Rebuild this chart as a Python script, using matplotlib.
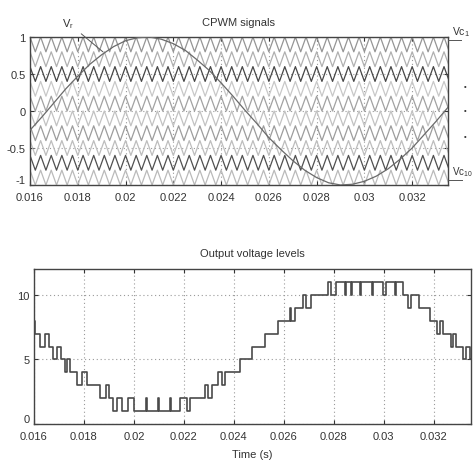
import numpy as np
import matplotlib
matplotlib.use("Agg")
import matplotlib.pyplot as plt

plt.rcParams['font.family'] = ['Liberation Sans', 'DejaVu Sans']

# ---------------- data ----------------
x_min, x_max = 0.016, 0.0335
x_ticks = [0.016, 0.018, 0.02, 0.022, 0.024, 0.026, 0.028, 0.03, 0.032]
x_tick_labels = ['0.016', '0.018', '0.02', '0.022', '0.024', '0.026', '0.028', '0.03', '0.032']

# reference signal Vr (time, value)
ref_t = [0.0160, 0.0165, 0.0170, 0.0175, 0.0180, 0.0185, 0.0190, 0.0195, 0.0200,
         0.0205, 0.0210, 0.0215, 0.0220, 0.0225, 0.0230, 0.0235, 0.0240, 0.0245,
         0.0250, 0.0255, 0.0260, 0.0265, 0.0270, 0.0275, 0.0280, 0.0285, 0.0290,
         0.0295, 0.0300, 0.0305, 0.0310, 0.0315, 0.0320, 0.0325, 0.0330, 0.0335]
ref_v = [-0.26, -0.08, 0.11, 0.30, 0.47, 0.63, 0.76, 0.87, 0.95,
         0.99, 1.00, 0.97, 0.91, 0.82, 0.69, 0.55, 0.38, 0.20,
         0.01, -0.17, -0.36, -0.52, -0.67, -0.80, -0.90, -0.97, -1.00,
         -0.99, -0.95, -0.88, -0.78, -0.65, -0.50, -0.32, -0.14, 0.05]

# level-shifted triangular carriers Vc1..Vc10
carrier_freq = 2250.0
carrier_bottoms = [0.8, 0.6, 0.4, 0.2, 0.0, -0.2, -0.4, -0.6, -0.8, -1.0]
carrier_height = 0.2
carrier_colors = ['#959595', '#b0b0b0', '#474747', '#c8c8c8', '#a2a2a2',
                  '#c2c2c2', '#9d9d9d', '#bdbdbd', '#505050', '#bababa']

top_y_ticks = [-1, -0.5, 0, 0.5, 1]
top_y_labels = ['-1', '-0.5', '0', '0.5', '1']

# output voltage levels (step transitions)
step_t = [0.01600, 0.01604, 0.01624, 0.01644, 0.01660, 0.01675, 0.01691, 0.01708,
          0.01724, 0.01732, 0.01744, 0.01772, 0.01791, 0.01813, 0.01864, 0.01888,
          0.01900, 0.01916, 0.01932, 0.01952, 0.01976, 0.02000, 0.02048, 0.02052,
          0.02096, 0.02100, 0.02144, 0.02148, 0.02184, 0.02212, 0.02224, 0.02284,
          0.02297, 0.02313, 0.02335, 0.02351, 0.02364, 0.02424, 0.02471, 0.02524,
          0.02577, 0.02624, 0.02631, 0.02644, 0.02677, 0.02690, 0.02710, 0.02776,
          0.02791, 0.02811, 0.02844, 0.02848, 0.02868, 0.02872, 0.02904, 0.02908,
          0.02952, 0.02956, 0.02997, 0.03011, 0.03044, 0.03048, 0.03077, 0.03097,
          0.03111, 0.03140, 0.03184, 0.03213, 0.03227, 0.03237, 0.03271, 0.03277,
          0.03291, 0.03317, 0.03331, 0.03345, 0.03350]
step_v = [8, 7, 6, 7, 6, 5, 6, 5,
          4, 5, 4, 3, 4, 3, 2, 3,
          2, 1, 2, 1, 2, 1, 2, 1,
          2, 1, 2, 1, 2, 1, 2, 3,
          2, 3, 4, 3, 4, 5, 6, 7,
          8, 9, 8, 9, 10, 9, 10, 11,
          10, 11, 10, 11, 10, 11, 10, 11,
          10, 11, 10, 11, 10, 11, 10, 9,
          10, 9, 8, 7, 8, 7, 6, 7,
          6, 5, 6, 5, 5]
bot_y_ticks = [0, 5, 10]
bot_y_labels = ['0', '5', '10']

# ---------------- figure ----------------
W, H = 475, 464
fig = plt.figure(figsize=(W / 100, H / 100), dpi=100)

def fx(px):
    return px / W

def fy(py):
    return 1 - py / H

ax1 = fig.add_axes([fx(30), fy(186), fx(448) - fx(30), fy(38) - fy(186)])
ax2 = fig.add_axes([fx(34), fy(425), fx(471) - fx(34), fy(270) - fy(425)])

grid_kw = dict(color='#9a9a9a', linestyle=(0, (1, 2.5)), linewidth=0.8)

# ---- top: carriers + reference ----
half_p = 0.5 / carrier_freq
vt = np.arange(x_min, x_max + half_p, half_p)
for b, c in zip(carrier_bottoms, carrier_colors):
    vals = np.where(np.arange(len(vt)) % 2 == 0, b + carrier_height, b)
    ax1.plot(vt, vals, color=c, linewidth=0.9, zorder=2)
ax1.plot(ref_t, ref_v, color='#6a6a6a', linewidth=0.9, zorder=3)

ax1.set_xlim(x_min, x_max)
ax1.set_ylim(-1, 1)
ax1.set_xticks(x_ticks)
ax1.set_xticklabels(x_tick_labels)
ax1.set_yticks(top_y_ticks)
ax1.set_yticklabels(top_y_labels)
ax1.grid(True, **grid_kw)
ax1.set_axisbelow(True)
ax1.set_title('CPWM signals', fontsize=8, color='#333333', pad=9)

# annotations
ax1.annotate('V$_\\mathregular{r}$', xy=(0.01905, 0.80), xytext=(0.0176, 1.19),
             xycoords='data', textcoords='data', fontsize=8, color='#333333',
             ha='center', va='center', annotation_clip=False,
             arrowprops=dict(arrowstyle='-', color='#555555', lw=0.7,
                             shrinkA=4, shrinkB=0))
fig.text(fx(452), fy(32), 'Vc$_\\mathregular{1}$', fontsize=7.5, color='#333333',
         ha='left', va='center')
fig.add_artist(plt.Line2D([fx(448), fx(461)], [fy(41), fy(41)], color='#555555', lw=0.7))
for py in (87, 112, 137):
    fig.text(fx(465), fy(py), '•', fontsize=5.5, color='#333333', ha='center', va='center')
fig.text(fx(452), fy(172), 'Vc$_\\mathregular{10}$', fontsize=7, color='#333333',
         ha='left', va='center')
fig.add_artist(plt.Line2D([fx(448), fx(462)], [fy(181), fy(181)], color='#555555', lw=0.7))

# ---- bottom: output levels ----
ax2.step(step_t, step_v, where='post', color='#4a4a4a', linewidth=1.2, zorder=3)
ax2.set_xlim(x_min, x_max)
ax2.set_ylim(0, 12)
ax2.set_xticks(x_ticks)
ax2.set_xticklabels(x_tick_labels)
ax2.set_yticks(bot_y_ticks)
ax2.set_yticklabels(bot_y_labels)
ax2.grid(True, **grid_kw)
ax2.set_axisbelow(True)
ax2.set_title('Output voltage levels', fontsize=8, color='#333333', pad=9)
ax2.set_xlabel('Time (s)', fontsize=8, color='#333333', labelpad=6)

for ax in (ax1, ax2):
    ax.tick_params(direction='in', length=3, width=0.8, top=True, right=True,
                   labelsize=8, labelcolor='#333333', colors='#333333')
    ax.tick_params(axis='x', pad=5)
    ax.tick_params(axis='y', pad=3)
    for s in ax.spines.values():
        s.set_color('#444444')
        s.set_linewidth(1.0)
    # lift the lowest y label slightly, as in the reference
    lbls = ax.get_yticklabels()
    lbls[0].set_verticalalignment('bottom')

fig.savefig('out.png', dpi=100)
